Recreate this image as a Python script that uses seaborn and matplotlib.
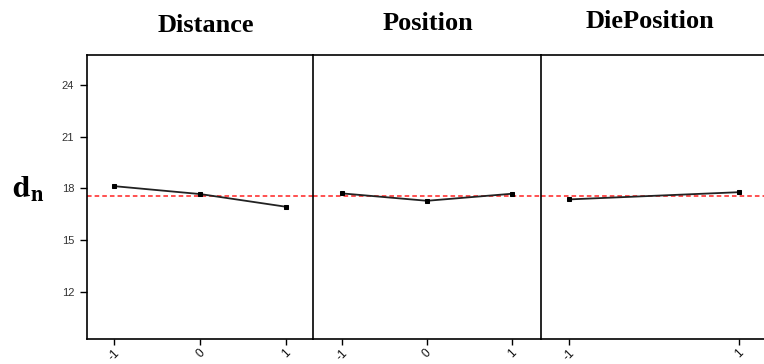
import matplotlib
matplotlib.use("Agg")
import matplotlib.pyplot as plt
import seaborn as sns
import pandas as pd

# ---- data ----
factors = ["Distance", "Position", "DiePosition"]
distance_levels = [-1, 0, 1]
distance_means = [18.13, 17.67, 16.93]
position_levels = [-1, 0, 1]
position_means = [17.71, 17.28, 17.69]
dieposition_levels = [-1, 1]
dieposition_means = [17.36, 17.78]
grand_mean = 17.57
y_ticks = [12, 15, 18, 21, 24]

sns.set_style("white")
plt.rcParams["font.family"] = ["Liberation Sans", "DejaVu Sans"]
plt.rcParams["text.color"] = "black"

W, H = 764, 364
fig = plt.figure(figsize=(W / 100, H / 100), dpi=100)

top_px, bot_px = 55, 339
panels_px = [(86.7, 313), (313, 541), (541, 769)]
xlims = [(-1.32, 1.31), (-1.34, 1.34), (-1.33, 1.35)]
levels = [distance_levels, position_levels, dieposition_levels]
means = [distance_means, position_means, dieposition_means]
title_pos = [(206, 32), (428, 30), (650, 28)]

for i, (x0, x1) in enumerate(panels_px):
    ax = fig.add_axes([x0 / W, 1 - bot_px / H, (x1 - x0) / W, (bot_px - top_px) / H])
    df = pd.DataFrame({"level": levels[i], "mean": means[i]})
    sns.lineplot(data=df, x="level", y="mean", ax=ax, color="#222222",
                 linewidth=1.3, marker="s", markersize=3.3, markeredgecolor="black",
                 markerfacecolor="black")
    ax.axhline(grand_mean, color="#ff2020", linestyle=(0, (3, 2)), linewidth=1.1, zorder=1)
    ax.set_xlim(*xlims[i])
    ax.set_ylim(9.25, 25.75)
    ax.set_xticks(levels[i])
    ax.set_xticklabels([str(v) for v in levels[i]], rotation=45, fontsize=8.5, color="#111111")
    ax.set_xlabel("")
    ax.set_ylabel("")
    ax.tick_params(axis="x", length=4, width=1, color="black", direction="out", bottom=True, pad=2)
    for s in ["top", "bottom", "left"]:
        ax.spines[s].set_visible(True)
        ax.spines[s].set_color("black")
        ax.spines[s].set_linewidth(1.2)
    ax.spines["right"].set_visible(False)
    if i == 0:
        ax.set_yticks(y_ticks)
        ax.set_yticklabels([str(t) for t in y_ticks], fontsize=8, color="#333333")
        ax.tick_params(axis="y", length=5, width=1, color="black", direction="out", left=True, pad=4)
    else:
        ax.set_yticks([])
    tx, ty = title_pos[i]
    fig.text(tx / W, 1 - ty / H, factors[i], ha="center", va="baseline", color="black",
             fontsize=19, fontweight="bold", family="Liberation Serif")

fig.text(12 / W, 1 - 198 / H, r"$\mathbf{d_n}$", ha="left", va="baseline", fontsize=23,
         color="black", math_fontfamily="stix")

fig.savefig("out.png", dpi=100)
